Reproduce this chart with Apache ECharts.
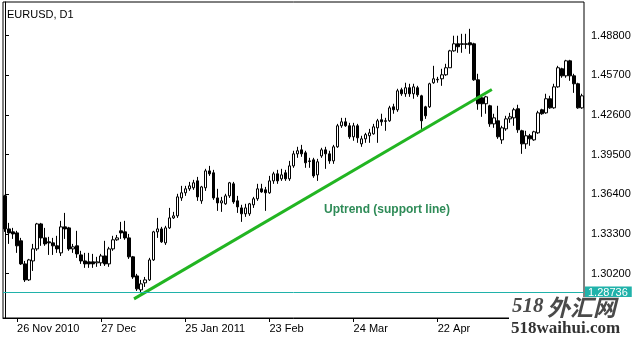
<!DOCTYPE html>
<html><head><meta charset="utf-8">
<script src="https://cdn.jsdelivr.net/npm/echarts@6/dist/echarts.min.js"></script>
<style>html,body{margin:0;padding:0;background:#fff}#c{width:644px;height:340px}</style>
</head><body><div id="c"></div>
<script>
// ---- data (EURUSD D1, 23 Nov 2010 .. 13 Jun 2011) ----
const firstDay = '2010-11-23';
const opens = [
1.3628,1.3370,1.3347,1.3339,1.3277,1.3097,1.2972,1.3120,1.3214,1.3409,
1.3300,1.3269,1.3261,1.3238,1.3183,1.3386,1.3378,1.3214,1.3238,1.3167,
1.3120,1.3113,1.3113,1.3105,1.3105,1.3159,1.3097,1.3214,1.3285,1.3355,
1.3347,1.3300,1.3152,1.3003,1.2894,1.2949,1.2972,1.3128,1.3347,1.3370,
1.3261,1.3378,1.3456,1.3472,1.3612,1.3652,1.3683,1.3691,1.3745,1.3589,
1.3691,1.3823,1.3808,1.3612,1.3573,1.3566,1.3628,1.3722,1.3589,1.3534,
1.3488,1.3488,1.3558,1.3605,1.3683,1.3675,1.3652,1.3745,1.3800,1.3761,
1.3808,1.3761,1.3862,1.3956,1.3987,1.3964,1.3901,1.3909,1.3792,1.3940,
1.3987,1.3956,1.3901,1.4011,1.4175,1.4206,1.4175,1.4089,1.4175,1.4034,
1.4073,1.4097,1.4112,1.4159,1.4222,1.4214,1.4214,1.4323,1.4300,1.4456,
1.4425,1.4472,1.4425,1.4472,1.4409,1.4323,1.4323,1.4511,1.4534,1.4542,
1.4573,1.4628,1.4760,1.4815,1.4815,1.4815,1.4823,1.4815,1.4534,1.4393,
1.4347,1.4331,1.4190,1.4214,1.4065,1.4151,1.4229,1.4237,1.4308,1.4136,
1.4034,1.4097,1.4065,1.4120,1.4300,1.4276,1.4386,1.4315,1.4479,1.4620,
1.4565,1.4682,1.4565,1.4503,1.4315];
const closes = [
1.3370,1.3339,1.3331,1.3238,1.3097,1.2972,1.3128,1.3214,1.3409,1.3300,
1.3253,1.3261,1.3238,1.3214,1.3386,1.3370,1.3214,1.3230,1.3175,1.3120,
1.3097,1.3097,1.3097,1.3113,1.3159,1.3097,1.3214,1.3285,1.3300,1.3339,
1.3300,1.3152,1.2995,1.2902,1.2941,1.2972,1.3128,1.3347,1.3370,1.3269,
1.3378,1.3456,1.3472,1.3620,1.3652,1.3683,1.3706,1.3730,1.3620,1.3698,
1.3823,1.3800,1.3612,1.3573,1.3589,1.3628,1.3730,1.3581,1.3542,1.3488,
1.3534,1.3566,1.3605,1.3683,1.3659,1.3652,1.3745,1.3800,1.3745,1.3792,
1.3761,1.3862,1.3956,1.3980,1.3956,1.3886,1.3897,1.3784,1.3894,1.3987,
1.3956,1.3901,1.4011,1.4175,1.4206,1.4175,1.4089,1.4175,1.4081,1.4073,
1.4106,1.4120,1.4167,1.4214,1.4206,1.4210,1.4315,1.4300,1.4448,1.4425,
1.4472,1.4425,1.4479,1.4417,1.4214,1.4253,1.4503,1.4542,1.4538,1.4573,
1.4628,1.4760,1.4815,1.4792,1.4811,1.4811,1.4807,1.4534,1.4347,1.4347,
1.4401,1.4190,1.4237,1.4089,1.4159,1.4229,1.4245,1.4300,1.4144,1.4034,
1.4097,1.4073,1.4128,1.4276,1.4269,1.4386,1.4315,1.4479,1.4628,1.4565,
1.4682,1.4565,1.4503,1.4315,1.4409];
const lows = [
1.3347,1.3253,1.3292,1.3183,1.3089,1.2956,1.2964,1.3042,1.3199,1.3238,
1.3238,1.3167,1.3167,1.3183,1.3159,1.3292,1.3199,1.3183,1.3144,1.3097,
1.3066,1.3066,1.3066,1.3074,1.3081,1.3081,1.3074,1.3199,1.3277,1.3292,
1.3285,1.3136,1.2980,1.2886,1.28736,1.2917,1.2964,1.3120,1.3300,1.3261,
1.3245,1.3370,1.3448,1.3456,1.3589,1.3628,1.3667,1.3675,1.3589,1.3566,
1.3667,1.3784,1.3597,1.3511,1.3503,1.3558,1.3612,1.3566,1.3495,1.3425,
1.3464,1.3472,1.3534,1.3589,1.3652,1.3511,1.3644,1.3722,1.3722,1.3745,
1.3745,1.3745,1.3847,1.3925,1.3933,1.3847,1.3847,1.3769,1.3745,1.3925,
1.3839,1.3878,1.3878,1.4003,1.4159,1.4167,1.4073,1.4058,1.4042,1.4011,
1.4042,1.4042,1.4106,1.4042,1.4175,1.4136,1.4206,1.4269,1.4284,1.4409,
1.4401,1.4401,1.4386,1.4401,1.4151,1.4229,1.4315,1.4503,1.4511,1.4487,
1.4565,1.4628,1.4753,1.4745,1.4745,1.4776,1.4737,1.4526,1.4300,1.4245,
1.4269,1.4167,1.4159,1.4073,1.4034,1.4136,1.4198,1.4175,1.4120,1.3956,
1.3995,1.4019,1.4058,1.4112,1.4261,1.4269,1.4308,1.4308,1.4472,1.4550,
1.4550,1.4526,1.4432,1.4308,1.4308];
const highs = [
1.3636,1.3417,1.3378,1.3355,1.3300,1.3120,1.3136,1.3253,1.3417,1.3417,
1.3378,1.3308,1.3300,1.3316,1.3433,1.3495,1.3386,1.3253,1.3355,1.3199,
1.3183,1.3183,1.3175,1.3152,1.3175,1.3277,1.3230,1.3316,1.3323,1.3425,
1.3433,1.3331,1.3159,1.3019,1.2972,1.2995,1.3144,1.3355,1.3456,1.3386,
1.3394,1.3534,1.3503,1.3644,1.3706,1.3706,1.3737,1.3753,1.3776,1.3706,
1.3839,1.3862,1.3831,1.3683,1.3620,1.3644,1.3737,1.3737,1.3628,1.3558,
1.3566,1.3573,1.3620,1.3722,1.3722,1.3698,1.3784,1.3816,1.3831,1.3839,
1.3831,1.3901,1.3980,1.4011,1.4026,1.3980,1.3925,1.3925,1.3917,1.4003,
1.4011,1.3980,1.4026,1.4190,1.4237,1.4237,1.4198,1.4198,1.4190,1.4097,
1.4120,1.4151,1.4190,1.4229,1.4269,1.4237,1.4331,1.4347,1.4464,1.4472,
1.4511,1.4503,1.4503,1.4487,1.4417,1.4331,1.4511,1.4643,1.4557,1.4620,
1.4659,1.4768,1.4878,1.4878,1.4893,1.4893,1.4932,1.4823,1.4581,1.4409,
1.4409,1.4339,1.4269,1.4331,1.4175,1.4253,1.4276,1.4315,1.4339,1.4144,
1.4136,1.4112,1.4136,1.4292,1.4308,1.4425,1.4409,1.4503,1.4643,1.4628,
1.4690,1.4690,1.4581,1.4511,1.4425];
const priceTicks = [1.302, 1.333, 1.364, 1.395, 1.426, 1.457, 1.488];
const dateTickKeys = ['2010-11-26','2010-12-27','2011-01-25','2011-02-23','2011-03-24','2011-04-22'];
const dateTickTexts = ['26 Nov 2010','27 Dec','25 Jan 2011','23 Feb','24 Mar','22 Apr'];
const supportLevel = 1.28736;
const trendIdx = [32.2, 121.5];
const trendPrice = [1.2824, 1.4458];
const chartTitle = 'EURUSD, D1';
const trendNote = 'Uptrend (support line)';

// ---- build ----
const dates = [];
{
  const d = new Date(firstDay + 'T00:00:00Z');
  while (dates.length < opens.length) {
    const wd = d.getUTCDay();
    if (wd !== 0 && wd !== 6) dates.push(d.toISOString().slice(0, 10));
    d.setUTCDate(d.getUTCDate() + 1);
  }
}
const tickMap = {};
dateTickKeys.forEach((k, i) => tickMap[k] = dateTickTexts[i]);
const candles = opens.map((o, i) => [o, closes[i], lows[i], highs[i]]);
const showTick = (idx, val) => tickMap[val] !== undefined;
const FONT = 'Liberation Sans';

const chart = echarts.init(document.getElementById('c'), null, {renderer: 'canvas'});
chart.setOption({
  animation: false,
  backgroundColor: '#fff',
  grid: {left: 3, right: 60, top: 2, bottom: 22, show: true, borderColor: '#000', borderWidth: 1, containLabel: false},
  xAxis: [{
    type: 'category', data: dates, boundaryGap: true,
    axisLine: {show: true, lineStyle: {color: '#000', width: 1}},
    axisTick: {show: true, interval: showTick, alignWithLabel: true, length: 4, lineStyle: {color: '#000'}},
    axisLabel: {interval: showTick, formatter: v => tickMap[v] || '', align: 'left', margin: 5,
      color: '#000', fontFamily: FONT, fontSize: 11},
    splitLine: {show: false}
  }, {
    type: 'value', min: -0.5, max: opens.length - 0.5, show: false, gridIndex: 0
  }],
  yAxis: [{
    type: 'value', position: 'right', scale: true,
    min: 1.267454, max: 1.514134,
    axisLine: {show: true, lineStyle: {color: '#000', width: 1}},
    axisTick: {show: true, length: 4, customValues: priceTicks, lineStyle: {color: '#000'}},
    axisLabel: {customValues: priceTicks, formatter: v => v.toFixed(5), margin: 7,
      color: '#000', fontFamily: FONT, fontSize: 11},
    splitLine: {show: false}
  }],
  series: [{
    type: 'candlestick', data: candles, barWidth: 3,
    xAxisIndex: 0, yAxisIndex: 0,
    itemStyle: {color: '#fff', color0: '#000', borderColor: '#000', borderColor0: '#000', borderWidth: 1},
    emphasis: {disabled: true},
    markLine: {
      silent: true, symbol: 'none', animation: false, precision: 5,
      data: [{yAxis: supportLevel}],
      lineStyle: {color: '#20b2aa', width: 1, type: 'solid'},
      label: {position: 'end', distance: 1, formatter: supportLevel.toFixed(5), color: '#fff',
        backgroundColor: '#20b2aa', padding: [1, 4, 0, 3], fontFamily: FONT, fontSize: 11}
    }
  }, {
    type: 'line', xAxisIndex: 1, yAxisIndex: 0,
    data: trendIdx.map((x, i) => [x, trendPrice[i]]),
    symbol: 'none', silent: true,
    lineStyle: {color: '#22b522', width: 3}
  }],
  graphic: [
    {type: 'text', left: 7, top: 9, style: {text: chartTitle, fill: '#000', font: '11px "' + FONT + '"'}},
    {type: 'text', left: 324, top: 204, style: {text: trendNote, fill: '#2e8b57', font: 'bold 12px "' + FONT + '"'}},
    {type: 'rect', left: 509, top: 297, shape: {width: 135, height: 43}, style: {fill: '#fff'}, z: 100},
    {type: 'text', left: 512, top: 296, z: 101, style: {text: '518', fill: '#4a4a4a', font: 'italic bold 21px "Liberation Serif"'}},
    {type: 'text', left: 547, top: 296, z: 101, style: {text: '外汇网', fill: '#4a4a4a', font: 'italic bold 23px "Noto Sans CJK SC"'}},
    {type: 'text', left: 511, top: 320, z: 101, style: {text: '518waihui.com', fill: '#333', font: 'bold 17px "Liberation Serif"'}}
  ]
});
</script></body></html>
